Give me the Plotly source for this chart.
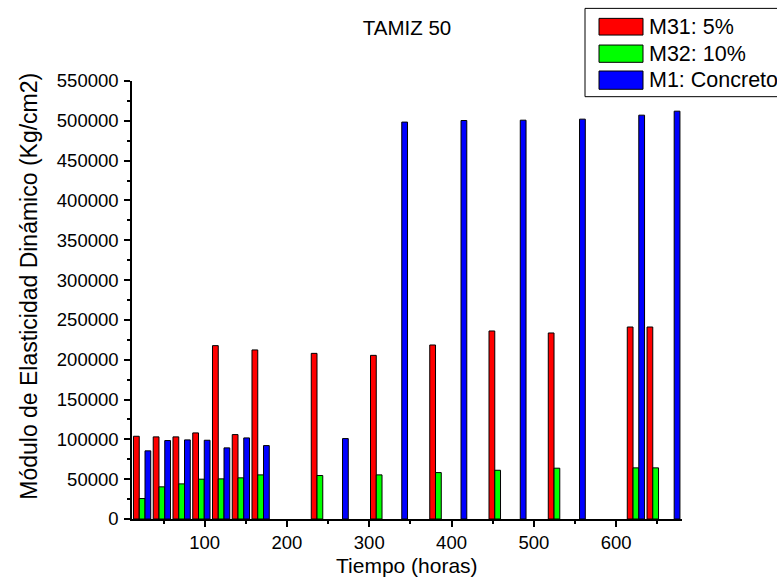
import plotly.graph_objects as go

# Test times (hours) and dynamic modulus of elasticity (kg/cm2) per mixture
horas_m31 = [24, 48, 72, 96, 120, 144, 168, 240, 312, 384, 456, 528, 624, 648]
m31 = [103900, 103100, 103100, 108100, 217700, 106000, 212300,
       208000, 205500, 218500, 236100, 233600, 241100, 241100]

horas_m32 = [24, 48, 72, 96, 120, 144, 168, 240, 312, 384, 456, 528, 624, 648]
m32 = [25700, 40400, 44100, 50000, 50400, 51700, 55400,
       54600, 55400, 58300, 61200, 63800, 64200, 64200]

horas_m1 = [24, 48, 72, 96, 120, 144, 168, 264, 336, 408, 480, 552, 624, 667]
m1 = [85600, 98500, 99300, 98900, 89300, 101800, 92200,
      101000, 498400, 500400, 500800, 502100, 507100, 512100]

series = [
    ("M31: 5%", horas_m31, m31, "#ff0000", -10.5),
    ("M32: 10%", horas_m32, m32, "#00ff00", -3.5),
    ("M1: Concreto", horas_m1, m1, "#0000ff", 3.5),
]

FONT = "Liberation Sans, Arial, sans-serif"
BAR_W = 7

fig = go.Figure()
for name, xs, ys, color, off in series:
    fig.add_trace(go.Bar(
        x=xs, y=ys, name=name, width=BAR_W, offset=off,
        marker=dict(color=color, line=dict(color="black", width=1)),
        showlegend=False,
    ))

# Plot-area geometry in pixels, used to place the legend box in paper units
L, R, T, B = 132, 682, 81, 519.5
W, H = R - L, B - T


def px(x):
    return (x - L) / W


def py(y):
    return (B - y) / H


shapes = [dict(type="rect", xref="paper", yref="paper",
               x0=px(585), x1=px(820), y0=py(96.7), y1=py(8.3),
               line=dict(color="black", width=1), fillcolor="white", layer="above")]
annotations = []
rows = [(18.3, 35.0), (45.0, 62.3), (71.0, 89.3)]
for (name, _, _, color, _), (ya, yb) in zip(series, rows):
    shapes.append(dict(type="rect", xref="paper", yref="paper",
                       x0=px(599), x1=px(643), y0=py(yb), y1=py(ya),
                       line=dict(color="black", width=1), fillcolor=color,
                       layer="above"))
    annotations.append(dict(text=name, xref="paper", yref="paper",
                            x=px(646.5), y=py((ya + yb) / 2), xanchor="left",
                            yanchor="middle", showarrow=False,
                            font=dict(family=FONT, size=21.5, color="black")))

annotations.append(dict(text="Tiempo (horas)", xref="paper", yref="paper",
                        x=0.5, y=py(566), xanchor="center", yanchor="middle",
                        showarrow=False,
                        font=dict(family=FONT, size=21, color="black")))
annotations.append(dict(text="Módulo de Elasticidad Dinámico (Kg/cm2)",
                        xref="paper", yref="paper", x=px(29), y=py(287),
                        xanchor="center", yanchor="middle", textangle=-90,
                        showarrow=False,
                        font=dict(family=FONT, size=23, color="black")))

fig.update_layout(
    width=777, height=584,
    margin=dict(l=L, r=777 - R, t=T, b=584 - B),
    paper_bgcolor="white", plot_bgcolor="white",
    barmode="overlay",
    title=dict(text="TAMIZ 50", x=0.5, xref="paper", y=1 - 28 / 584,
               yref="container", xanchor="center", yanchor="middle",
               font=dict(family=FONT, size=20.5, color="black")),
    font=dict(family=FONT, color="black"),
    shapes=shapes, annotations=annotations,
    xaxis=dict(range=[11.7, 680], tickvals=[100, 200, 300, 400, 500, 600],
               showline=True, linecolor="black", linewidth=1.5,
               ticks="outside", ticklen=6, tickwidth=1.5, tickcolor="black",
               minor=dict(dtick=50, tick0=0, ticks="outside", ticklen=3,
                          tickwidth=1.5, tickcolor="black"),
               showgrid=False, zeroline=False,
               tickfont=dict(family=FONT, size=18.5, color="black")),
    yaxis=dict(range=[0, 550000], dtick=50000, tick0=0, tickformat="d",
               showline=True, linecolor="black", linewidth=1.5,
               ticks="outside", ticklen=6, tickwidth=1.5, tickcolor="black",
               ticklabelstandoff=2,
               minor=dict(dtick=25000, tick0=0, ticks="outside", ticklen=3,
                          tickwidth=1.5, tickcolor="black"),
               showgrid=False, zeroline=False,
               tickfont=dict(family=FONT, size=18.5, color="black")),
)

fig.write_html("out.html")
